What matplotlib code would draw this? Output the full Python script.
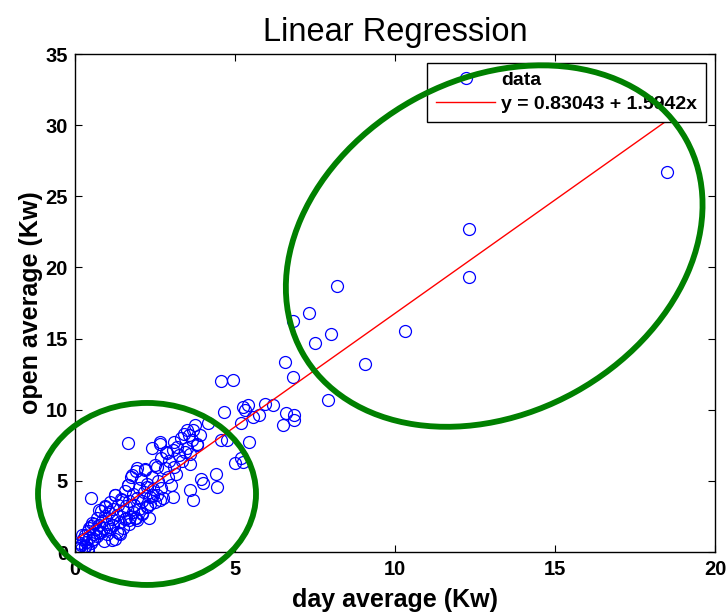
import numpy as np
import matplotlib
matplotlib.use("Agg")
from matplotlib import pyplot as plt
from matplotlib.patches import Ellipse
from matplotlib.transforms import ScaledTranslation

# day average (Kw) vs open average (Kw)
day_avg = [
    18.5, 12.3, 12.3, 8.2, 7.3, 6.8, 8.0, 7.5, 10.3, 9.05, 6.55, 6.8, 7.9,
    5.95, 6.2, 6.6, 6.85, 6.85, 6.5, 5.75, 4.55, 4.95, 4.65, 5.25, 5.4, 5.3,
    5.55, 5.2, 4.15, 3.75, 3.5, 5.45, 4.55, 4.75, 3.8, 3.5, 5.0, 5.2, 5.25,
    3.6, 4.4, 3.95, 4.45, 4.0, 3.6, 3.7, 3.05, 0.5, 1.65,
    3.1, 2.66, 2.87, 2.55, 2.2, 1.95, 1.78, 1.66, 2.24, 2.45, 2.66, 2.35,
    1.93, 1.72,
    0.1, 0.15, 0.2, 0.25, 0.3, 0.3, 0.35, 0.4, 0.4, 0.45, 0.5, 0.5, 0.55,
    0.6, 0.6, 0.65, 0.7, 0.7, 0.75, 0.8, 0.8, 0.85, 0.9, 0.95, 0.95, 1.0,
    1.0, 1.05, 1.1, 1.1, 1.15, 1.2, 1.2, 1.25, 1.3, 1.3, 1.35, 1.4, 1.45,
    1.5, 1.5, 1.55, 1.6, 1.6, 1.65, 1.7, 1.7, 1.75, 1.8, 1.8, 1.85, 1.9,
    1.9, 1.95, 2.0, 2.0, 2.05, 2.1, 2.1, 2.15, 2.2, 2.25, 2.25, 2.3, 2.35,
    2.4, 2.4, 2.45, 2.5, 2.5, 2.55, 2.6, 2.65, 2.7, 2.7, 2.75, 2.8, 2.85,
    2.9, 2.95, 3.0, 3.05, 3.1, 3.15, 3.2, 3.25, 3.3, 3.35, 3.4, 3.45, 3.55,
    3.6, 3.65, 3.7, 3.8, 3.9,
    0.2, 0.4, 1.4, 1.55, 1.25, 0.9, 0.12, 0.22, 0.32, 0.53, 0.74, 1.05,
    1.37, 1.16, 0.74, 0.95, 0.53, 0.43, 2.09, 1.89, 1.68, 2.25, 1.47, 1.26,
]
open_avg = [
    26.7, 22.7, 19.3, 18.7, 16.8, 16.2, 15.3, 14.7, 15.5, 13.2, 13.35, 12.3,
    10.7, 10.4, 10.3, 9.8, 9.6, 9.25, 8.9, 9.6, 12.0, 12.1, 9.85, 10.2, 10.3,
    10.0, 9.5, 9.1, 9.1, 8.9, 8.6, 7.7, 7.9, 7.9, 7.5, 7.3, 6.25, 6.6, 6.3,
    6.2, 5.5, 5.1, 4.6, 4.85, 4.35, 3.65, 3.9, 3.8, 7.65,
    7.7, 7.7, 6.95, 6.0, 5.76, 5.9, 5.4, 4.7, 4.57, 4.0, 3.65, 3.4,
    2.25, 2.46,
    0.3, 0.6, 0.2, 0.9, 0.4, 1.2, 0.7, 1.5, 0.3, 1.0, 1.8, 0.6, 1.3,
    2.0, 0.9, 1.6, 2.4, 1.1, 1.9, 2.9, 1.4, 2.2, 1.7, 3.2, 2.5, 1.3,
    2.0, 2.8, 1.6, 3.5, 2.3, 3.0, 1.9, 4.0, 2.6, 1.4, 3.3, 2.1, 3.7,
    2.9, 1.7, 4.3, 3.2, 2.4, 4.7, 3.6, 2.0, 5.3, 2.8, 4.1, 3.3, 5.7,
    2.4, 3.8, 4.5, 3.0, 5.1, 2.7, 3.6, 4.2, 5.8, 3.2, 4.8, 2.4, 3.9,
    5.3, 7.3, 4.4, 3.5, 6.1, 4.0, 5.0, 7.6, 6.6, 4.5, 3.8, 5.9, 7.0,
    5.3, 6.4, 4.7, 7.2, 6.0, 5.5, 7.4, 6.8, 8.0, 6.4, 8.3, 7.0, 8.2,
    6.9, 7.9, 8.6, 7.6, 8.2,
    0.5, 0.1, 1.3, 2.3, 0.9, 0.8, 0.26, 1.19, 0.37, 0.84, 1.31, 1.78,
    1.31, 0.84, 2.95, 3.18, 2.02, 1.66, 2.72, 2.37, 2.25, 3.18, 3.65, 4.0,
]

fit_b0 = 0.83043
fit_b1 = 1.5942
fit_label = "y = 0.83043 + 1.5942x"

x_ticks = [0, 5, 10, 15, 20]
y_ticks = [0, 5, 10, 15, 20, 25, 30, 35]

# ellipse highlights: data-coord centres, size in inches, tilt in degrees
ell_centres = [(2.25, 4.08), (13.1, 21.5)]
ell_sizes = [(2.18, 1.82), (4.39, 3.34)]
ell_angles = [0, 29]

plt.rcParams['font.family'] = ['Liberation Sans', 'DejaVu Sans']

fig = plt.figure(figsize=(7.28, 6.13), dpi=100)
ax = fig.add_axes([75/728, 61/613, 640/728, 498/613])

ax.plot(day_avg, open_avg, 'o', mfc='none', mec='blue', ms=8.6, mew=0.9,
        label='data')
line_x = np.array([min(day_avg), max(day_avg)])
ax.plot(line_x, fit_b0 + fit_b1*line_x, color='red', lw=1, label=fit_label)

ax.set_xlim(0, 20)
ax.set_ylim(0, 35)
ax.set_xticks(x_ticks)
ax.set_yticks(y_ticks)
ax.tick_params(direction='in', top=True, right=True, length=5, width=0.8,
               labelsize=14.5)
ax.tick_params(axis='x', pad=6)
ax.tick_params(axis='y', pad=5)
for lab in ax.get_xticklabels() + ax.get_yticklabels():
    lab.set_fontweight('bold')
for s in ax.spines.values():
    s.set_linewidth(1)

ax.set_title("Linear Regression", fontsize=23.5, pad=9)
ax.set_xlabel("day average (Kw)", fontsize=18, fontweight='bold', labelpad=6)
ax.set_ylabel("open average (Kw)", fontsize=18, fontweight='bold', labelpad=2)

leg = ax.legend(loc='upper right', prop={'weight': 'bold', 'size': 14},
                fancybox=False, edgecolor='black', framealpha=1,
                handlelength=3.05, handletextpad=0.3, borderaxespad=0.46,
                borderpad=0.45, labelspacing=0.3)
leg.get_frame().set_linewidth(1)

for (cx, cy), (w, h), ang in zip(ell_centres, ell_sizes, ell_angles):
    tr = fig.dpi_scale_trans + ScaledTranslation(cx, cy, ax.transData)
    e = Ellipse((0, 0), w, h, angle=ang, transform=tr, fill=False,
                edgecolor='green', lw=4.2, clip_on=False, zorder=10)
    ax.add_artist(e)

fig.savefig("out.png", dpi=100)
